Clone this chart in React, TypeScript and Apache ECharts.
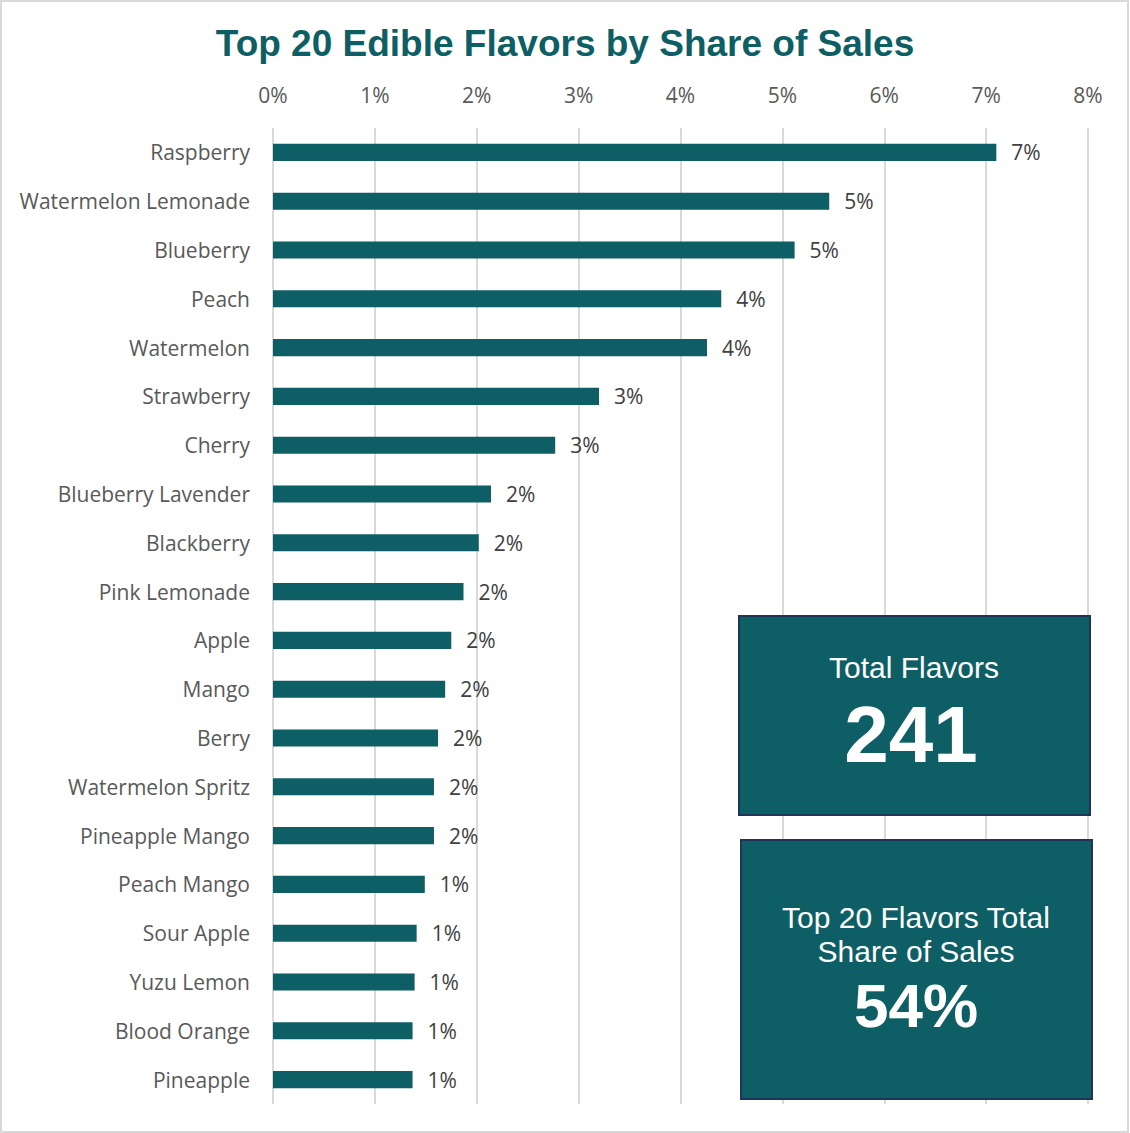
import React, { useEffect, useRef } from "react";
import * as echarts from "echarts";

const flavors = [
  "Raspberry", "Watermelon Lemonade", "Blueberry", "Peach", "Watermelon",
  "Strawberry", "Cherry", "Blueberry Lavender", "Blackberry", "Pink Lemonade",
  "Apple", "Mango", "Berry", "Watermelon Spritz", "Pineapple Mango",
  "Peach Mango", "Sour Apple", "Yuzu Lemon", "Blood Orange", "Pineapple",
];
const shareOfSales = [
  7.1, 5.46, 5.12, 4.4, 4.26, 3.2, 2.77, 2.14, 2.02, 1.87,
  1.75, 1.69, 1.62, 1.58, 1.58, 1.49, 1.41, 1.39, 1.37, 1.37,
];
const totalFlavors = "241";
const top20Share = "54%";
const axisTicks = [0, 1, 2, 3, 4, 5, 6, 7, 8];

const TEAL = "#0e5e65";
const BORDER = "#1e3556";
const BOXFONT = "Liberation Sans, Arial";

export default function App() {
  const ref = useRef<HTMLDivElement>(null);
  useEffect(() => {
    document.body.style.margin = "0";
    const chart = echarts.init(ref.current!, null, { renderer: "svg" });
    const txt = (x: number, y: number, text: string, fontSize: number, bold = false) => ({
      type: "text",
      x,
      y,
      z: 102,
      style: {
        text,
        fill: "#ffffff",
        fontFamily: BOXFONT,
        fontWeight: bold ? "bold" : "normal",
        fontSize,
        align: "center",
        verticalAlign: "middle",
      },
    });
    chart.setOption({
      animation: false,
      backgroundColor: "#ffffff",
      title: {
        text: "Top 20 Edible Flavors by Share of Sales",
        left: "center",
        top: 20,
        textStyle: {
          fontFamily: "Liberation Sans, Arial",
          fontWeight: "bold",
          fontSize: 37,
          color: TEAL,
        },
      },
      grid: { left: 273, right: 42, top: 128, bottom: 29, containLabel: false },
      xAxis: {
        type: "value",
        position: "top",
        min: axisTicks[0],
        max: axisTicks[axisTicks.length - 1],
        interval: 1,
        axisLine: { show: false },
        axisTick: { show: false },
        axisLabel: {
          formatter: "{value}%",
          margin: 23,
          fontFamily: "Open Sans, Liberation Sans",
          fontSize: 21,
          color: "#595959",
        },
        splitLine: { show: true, lineStyle: { color: "#d9d9d9", width: 2 } },
      },
      yAxis: {
        type: "category",
        inverse: true,
        data: flavors,
        axisLine: { show: false },
        axisTick: { show: false },
        axisLabel: {
          margin: 23,
          fontFamily: "Open Sans, Liberation Sans",
          fontSize: 21,
          color: "#595959",
        },
      },
      series: [
        {
          type: "bar",
          data: shareOfSales,
          barWidth: "35%",
          itemStyle: { color: TEAL },
          label: {
            show: true,
            position: "right",
            distance: 15,
            formatter: (p: any) => Math.round(p.value) + "%",
            fontFamily: "Open Sans, Liberation Sans",
            fontSize: 21,
            color: "#404040",
          },
        },
      ],
      graphic: [
        {
          type: "rect",
          z: 100,
          shape: { x: 1, y: 1, width: 1127, height: 1131 },
          style: { fill: "none", stroke: "#d9d9d9", lineWidth: 2 },
          silent: true,
        },
        {
          type: "rect",
          z: 101,
          shape: { x: 739, y: 616, width: 351, height: 199 },
          style: { fill: TEAL, stroke: BORDER, lineWidth: 2 },
        },
        txt(914, 667, "Total Flavors", 30),
        txt(911, 734, totalFlavors, 80, true),
        {
          type: "rect",
          z: 101,
          shape: { x: 741, y: 840, width: 351, height: 259 },
          style: { fill: TEAL, stroke: BORDER, lineWidth: 2 },
        },
        txt(916, 917, "Top 20 Flavors Total", 30),
        txt(916, 951, "Share of Sales", 30),
        txt(916, 1005, top20Share, 62, true),
      ],
    });
    return () => chart.dispose();
  }, []);
  return <div ref={ref} style={{ width: 1130, height: 1133 }} />;
}
